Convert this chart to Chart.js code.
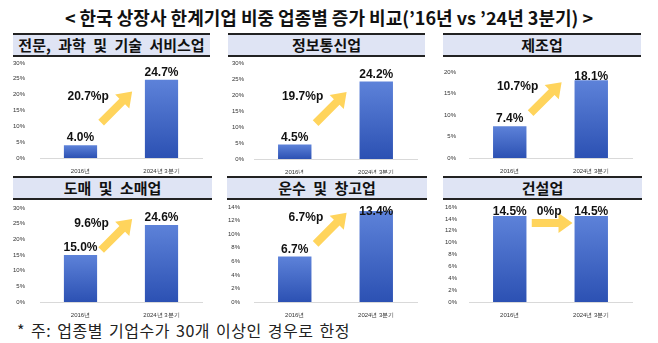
<!DOCTYPE html>
<html>
<head>
<meta charset="utf-8">
<script src="https://cdn.jsdelivr.net/npm/chart.js@4"></script>
<style>
  body { margin: 0; background: #fff; width: 658px; height: 343px; position: relative; overflow: hidden; }
  .title {
    position: absolute; left: 0; top: 5px; width: 658px; text-align: center;
    font: bold 18px "Noto Sans CJK KR", sans-serif; color: #111; line-height: 24px;
  }
  .head {
    position: absolute; box-sizing: border-box; background: #dfe4f4;
    border-top: 2px solid #222; border-bottom: 2px solid #222;
    text-align: center; font: bold 15px "Noto Sans CJK KR", sans-serif; color: #111;
    line-height: 19px; word-spacing: 4px;
  }
  canvas { position: absolute; }
  .note {
    position: absolute; left: 17px; top: 319px;
    font: 16px "Noto Sans CJK KR", sans-serif; color: #222; line-height: 22px;
    letter-spacing: 0.5px; word-spacing: 2px;
  }
</style>
</head>
<body>
<div class="title">&lt; 한국 상장사 한계기업 비중 업종별 증가 비교(’16년 vs ’24년 3분기) &gt;</div>
<div class="note">* 주: 업종별 기업수가 30개 이상인 경우로 한정</div>
<script>
// data
const sectors = ["전문, 과학 및 기술 서비스업", "정보통신업", "제조업", "도매 및 소매업", "운수 및 창고업", "건설업"];
const periods = ["2016년", "2024년 3분기"];
const share2016 = [4.0, 4.5, 7.4, 15.0, 6.7, 14.5];
const share2024q3 = [24.7, 24.2, 18.1, 24.6, 13.4, 14.5];
const axisMax = [30, 30, 20, 30, 14, 16];
const axisStep = [5, 5, 5, 5, 2, 2];

// panel boxes (page pixels)
const boxes = [
  { l: 13, r: 210, t: 57, b: 174, aL: 40, aR: 202, aT: 63, aB: 158, pad: 7, hT: 33 },
  { l: 228, r: 425, t: 57, b: 174, aL: 254, aR: 417, aT: 63, aB: 159, pad: 2, hT: 33 },
  { l: 443, r: 641, t: 57, b: 174, aL: 469, aR: 632, aT: 72, aB: 158, pad: 5, hT: 33 },
  { l: 13, r: 212, t: 201, b: 318, aL: 40, aR: 202, aT: 208, aB: 302, pad: 7, hT: 176 },
  { l: 227, r: 427, t: 201, b: 318, aL: 254, aR: 417, aT: 207, aB: 302, pad: 6, hT: 176 },
  { l: 443, r: 642, t: 201, b: 318, aL: 469, aR: 632, aT: 207, aB: 302, pad: 4, hT: 176 },
];

function drawArrow(ctx, x1, y1, x2, y2) {
  const ang = Math.atan2(y2 - y1, x2 - x1);
  const len = Math.hypot(x2 - x1, y2 - y1);
  const head = 14, hw = 10, sw = 4;
  ctx.save();
  ctx.translate(x1, y1);
  ctx.rotate(ang);
  ctx.beginPath();
  ctx.moveTo(0, -sw);
  ctx.lineTo(len - head, -sw);
  ctx.lineTo(len - head, -hw);
  ctx.lineTo(len, 0);
  ctx.lineTo(len - head, hw);
  ctx.lineTo(len - head, sw);
  ctx.lineTo(0, sw);
  ctx.closePath();
  ctx.fillStyle = "#ffd45c";
  ctx.fill();
  ctx.restore();
}

// value labels, change label and the yellow arrow
const annotate = {
  id: "annotate",
  afterDatasetsDraw(chart) {
    const ctx = chart.ctx;
    const xs = chart.scales.x, ys = chart.scales.y;
    const vals = chart.data.datasets[0].data;
    const x0 = xs.getPixelForValue(0), x1 = xs.getPixelForValue(1);
    const d = x1 - x0;
    const top0 = ys.getPixelForValue(vals[0]), top1 = ys.getPixelForValue(vals[1]);

    ctx.save();
    ctx.fillStyle = "#111";
    ctx.font = "bold 12px 'Liberation Sans', Arial, sans-serif";
    ctx.textAlign = "center";
    ctx.textBaseline = "alphabetic";
    [x0, x1].forEach((x, i) => {
      const y = Math.max(ys.getPixelForValue(vals[i]) - 4, chart.chartArea.top + 8);
      ctx.fillText(vals[i].toFixed(1) + "%", x, y);
    });

    const diff = Math.round((vals[1] - vals[0]) * 10) / 10;
    const txt = diff === 0 ? "0%p" : diff.toFixed(1) + "%p";
    if (diff === 0) {
      const ay = top0 + 7;
      const ax1 = x0 + 0.27 * d, ax2 = x0 + 0.77 * d;
      drawArrow(ctx, ax1, ay, ax2, ay);
      ctx.fillStyle = "#111";
      ctx.textAlign = "center";
      ctx.textBaseline = "middle";
      ctx.fillText(txt, (ax1 + ax2) / 2 - 3, ay - 11);
    } else {
      const mx = x0 + 0.44 * d;
      const my = (top0 + top1) / 2 - 5;
      drawArrow(ctx, mx - 15, my + 15, mx + 16, my - 16);
      ctx.fillStyle = "#111";
      ctx.textAlign = "right";
      ctx.textBaseline = "middle";
      ctx.fillText(txt, x0 + 0.35 * d, my - 11);
    }
    ctx.restore();
  },
};

function barFill(context) {
  const chart = context.chart;
  const ys = chart.scales.y;
  if (!ys || !chart.chartArea) return "#3d63c4";
  const v = context.raw;
  const yTop = ys.getPixelForValue(v), yBot = ys.getPixelForValue(0);
  if (!isFinite(yTop) || yBot - yTop < 1) return "#3d63c4";
  const g = chart.ctx.createLinearGradient(0, yTop, 0, yBot);
  g.addColorStop(0, "#5d82d9");
  g.addColorStop(1, "#2c51b3");
  return g;
}

sectors.forEach((name, i) => {
  const b = boxes[i];

  const head = document.createElement("div");
  head.className = "head";
  head.style.left = b.l + "px";
  head.style.top = b.hT + "px";
  head.style.width = (b.r - b.l) + "px";
  head.style.height = "24px";
  head.textContent = name;
  document.body.appendChild(head);

  const cv = document.createElement("canvas");
  cv.width = b.r - b.l;
  cv.height = b.b - b.t;
  cv.style.left = b.l + "px";
  cv.style.top = b.t + "px";
  document.body.appendChild(cv);

  new Chart(cv.getContext("2d"), {
    type: "bar",
    data: {
      labels: periods,
      datasets: [{
        data: [share2016[i], share2024q3[i]],
        backgroundColor: barFill,
        barPercentage: 0.41,
        categoryPercentage: 1,
      }],
    },
    options: {
      responsive: false,
      animation: false,
      devicePixelRatio: 1,
      layout: { padding: { left: 0, top: b.aT - b.t, right: b.r - b.aR, bottom: 0 } },
      plugins: { legend: { display: false }, tooltip: { enabled: false } },
      scales: {
        x: {
          grid: { display: false },
          border: { display: true, color: "#d9d9d9" },
          ticks: {
            font: { size: 6, family: "'Liberation Sans', Arial, sans-serif" },
            color: "#333", padding: 2, maxRotation: 0, autoSkip: false,
          },
          afterFit(scale) {
            scale.height = b.b - b.aB;
            scale.paddingLeft = 0;
            scale.paddingRight = 0;
          },
        },
        y: {
          min: 0,
          max: axisMax[i],
          grid: { display: false },
          border: { display: false },
          ticks: {
            stepSize: axisStep[i],
            callback: (v) => v + "%",
            font: { size: 6, family: "'Liberation Sans', Arial, sans-serif" },
            color: "#333",
            padding: b.pad,
          },
          afterFit(scale) {
            scale.width = b.aL - b.l;
            scale.paddingTop = 0;
            scale.paddingBottom = 0;
          },
        },
      },
    },
    plugins: [annotate],
  });
});
</script>
</body>
</html>
